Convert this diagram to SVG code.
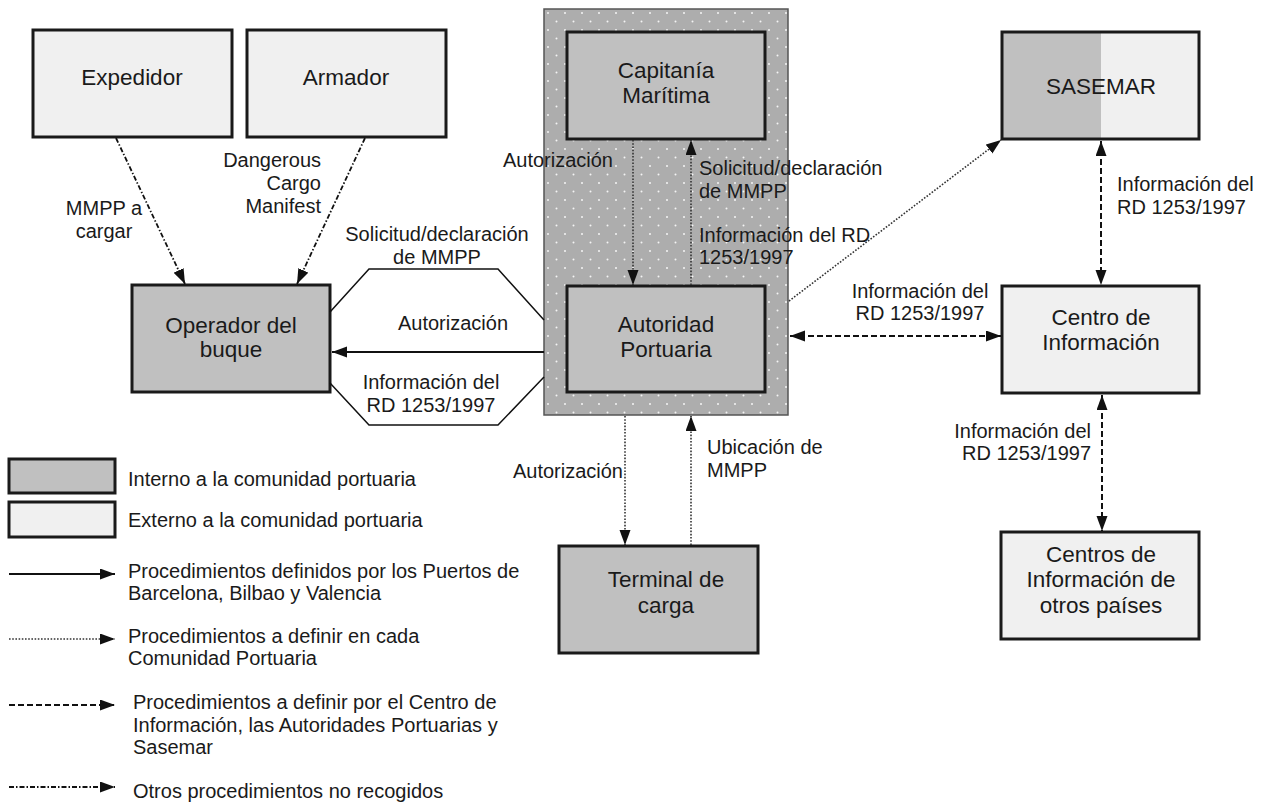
<svg xmlns="http://www.w3.org/2000/svg" width="1265" height="804" viewBox="0 0 1265 804">
<style>
text{font-family:"Liberation Sans",Arial,sans-serif;fill:#1a1a1a}
.n{font-size:22.5px;text-anchor:middle}
.l{font-size:20px}
.c{text-anchor:middle}
.e{text-anchor:end}
.int{fill:#c0c0c0;stroke:#1a1a1a;stroke-width:3}
.ext{fill:#f0f0f0;stroke:#1a1a1a;stroke-width:3}
.solid{stroke:#111;stroke-width:2;fill:none}
.dot{stroke:#333;stroke-width:1.6;fill:none;stroke-dasharray:1.6 1.6}
.dash{stroke:#111;stroke-width:2;fill:none;stroke-dasharray:6 3}
.dd{stroke:#111;stroke-width:1.8;fill:none;stroke-dasharray:5 2 1.5 2}
.hex{stroke:#111;stroke-width:1.5;fill:none}
</style>
<defs>
<marker id="ah" markerUnits="userSpaceOnUse" markerWidth="17" markerHeight="13" refX="15" refY="5.5" orient="auto-start-reverse">
<path d="M0,0 L15,5.5 L0,11 z" fill="#111"/>
</marker>
<pattern id="dots" patternUnits="userSpaceOnUse" width="17" height="17" x="544" y="9">
<rect width="17" height="17" fill="#adadad"/>
<circle cx="4" cy="4" r="1" fill="#f4f4f4"/>
<circle cx="12.5" cy="12.5" r="1" fill="#f4f4f4"/>
</pattern>
</defs>

<g id="port-community">
<rect x="544" y="9" width="244" height="406" fill="url(#dots)" stroke="#555" stroke-width="1.5"/>
</g>

<g id="expedidor">
<rect class="ext" x="33" y="30" width="199" height="107"/>
<text class="n" x="132" y="85">Expedidor</text>
</g>
<g id="armador">
<rect class="ext" x="247" y="30" width="199" height="107"/>
<text class="n" x="346" y="85">Armador</text>
</g>
<g id="capitania">
<rect class="int" x="567" y="32" width="198" height="107"/>
<text class="n" x="666" y="78">Capitanía</text>
<text class="n" x="666" y="103">Marítima</text>
</g>
<g id="sasemar">
<rect x="1002" y="32" width="99" height="107" fill="#c0c0c0"/>
<rect x="1101" y="32" width="98" height="107" fill="#f0f0f0"/>
<rect x="1002" y="32" width="197" height="107" fill="none" stroke="#1a1a1a" stroke-width="3"/>
<text class="n" x="1101" y="94">SASEMAR</text>
</g>
<g id="operador">
<rect class="int" x="132" y="285" width="198" height="107"/>
<text class="n" x="231" y="333">Operador del</text>
<text class="n" x="231" y="357">buque</text>
</g>
<g id="autoridad">
<rect class="int" x="567" y="286" width="198" height="106"/>
<text class="n" x="666" y="332">Autoridad</text>
<text class="n" x="666" y="357">Portuaria</text>
</g>
<g id="centro">
<rect class="ext" x="1002" y="286" width="197" height="107"/>
<text class="n" x="1101" y="325">Centro de</text>
<text class="n" x="1101" y="350">Información</text>
</g>
<g id="terminal">
<rect class="int" x="559" y="546" width="199" height="107"/>
<text class="n" x="666" y="587">Terminal de</text>
<text class="n" x="666" y="613">carga</text>
</g>
<g id="centros-otros">
<rect class="ext" x="1001" y="532" width="198" height="107"/>
<text class="n" x="1101" y="562">Centros de</text>
<text class="n" x="1101" y="587">Información de</text>
<text class="n" x="1101" y="613">otros países</text>
</g>

<g id="connectors">
<line class="dd" x1="116" y1="138" x2="185" y2="284" marker-end="url(#ah)"/>
<line class="dd" x1="365" y1="138" x2="297" y2="284" marker-end="url(#ah)"/>
<polyline class="hex" points="330,312 369,269 498,269 544,320"/>
<polyline class="hex" points="330,383 369,425 498,425 544,377"/>
<line class="solid" x1="544" y1="352" x2="332" y2="352" marker-end="url(#ah)"/>
<line class="dot" x1="633" y1="140" x2="633" y2="285" marker-end="url(#ah)"/>
<line class="dot" x1="691" y1="285" x2="691" y2="140" marker-end="url(#ah)"/>
<line class="dot" x1="789" y1="301" x2="1001" y2="140" marker-end="url(#ah)"/>
<line class="dash" x1="1101" y1="141" x2="1101" y2="285" marker-start="url(#ah)" marker-end="url(#ah)"/>
<line class="dash" x1="790" y1="336" x2="1001" y2="336" marker-start="url(#ah)" marker-end="url(#ah)"/>
<line class="dash" x1="1102" y1="395" x2="1102" y2="531" marker-start="url(#ah)" marker-end="url(#ah)"/>
<line class="dot" x1="625" y1="416" x2="625" y2="545" marker-end="url(#ah)"/>
<line class="dot" x1="691" y1="545" x2="691" y2="416" marker-end="url(#ah)"/>
</g>

<g id="labels" class="l">
<text class="l c" x="104" y="215">MMPP a</text>
<text class="l c" x="104" y="238">cargar</text>
<text class="l e" x="321" y="167">Dangerous</text>
<text class="l e" x="321" y="190">Cargo</text>
<text class="l e" x="321" y="213">Manifest</text>
<text class="l c" x="437" y="241">Solicitud/declaración</text>
<text class="l c" x="437" y="264">de MMPP</text>
<text class="l c" x="453" y="330">Autorización</text>
<text class="l c" x="431" y="389">Información del</text>
<text class="l c" x="431" y="412">RD 1253/1997</text>
<text class="l e" x="613" y="167">Autorización</text>
<text class="l" x="699" y="175">Solicitud/declaración</text>
<text class="l" x="699" y="198">de MMPP</text>
<text class="l" x="699" y="242">Información del RD</text>
<text class="l" x="699" y="264">1253/1997</text>
<text class="l" x="1117" y="191">Información del</text>
<text class="l" x="1117" y="214">RD 1253/1997</text>
<text class="l c" x="920" y="298">Información del</text>
<text class="l c" x="920" y="320">RD 1253/1997</text>
<text class="l e" x="1091" y="438">Información del</text>
<text class="l e" x="1091" y="460">RD 1253/1997</text>
<text class="l e" x="623" y="478">Autorización</text>
<text class="l" x="707" y="454">Ubicación de</text>
<text class="l" x="707" y="477">MMPP</text>
</g>

<g id="legend">
<rect class="int" x="9" y="459" width="106" height="34"/>
<rect class="ext" x="9" y="502" width="106" height="35"/>
<text class="l" x="128" y="486">Interno a la comunidad portuaria</text>
<text class="l" x="128" y="527">Externo a la comunidad portuaria</text>
<line class="solid" x1="9" y1="574" x2="115" y2="574" marker-end="url(#ah)"/>
<text class="l" x="128" y="578">Procedimientos definidos por los Puertos de</text>
<text class="l" x="128" y="600">Barcelona, Bilbao y Valencia</text>
<line class="dot" x1="9" y1="639" x2="115" y2="639" marker-end="url(#ah)"/>
<text class="l" x="128" y="643">Procedimientos a definir en cada</text>
<text class="l" x="128" y="665">Comunidad Portuaria</text>
<line class="dash" x1="9" y1="705" x2="115" y2="705" marker-end="url(#ah)"/>
<text class="l" x="133" y="709">Procedimientos a definir por el Centro de</text>
<text class="l" x="133" y="732">Información, las Autoridades Portuarias y</text>
<text class="l" x="133" y="754">Sasemar</text>
<line class="dd" x1="9" y1="787" x2="115" y2="787" marker-end="url(#ah)"/>
<text class="l" x="133" y="798">Otros procedimientos no recogidos</text>
</g>
</svg>
